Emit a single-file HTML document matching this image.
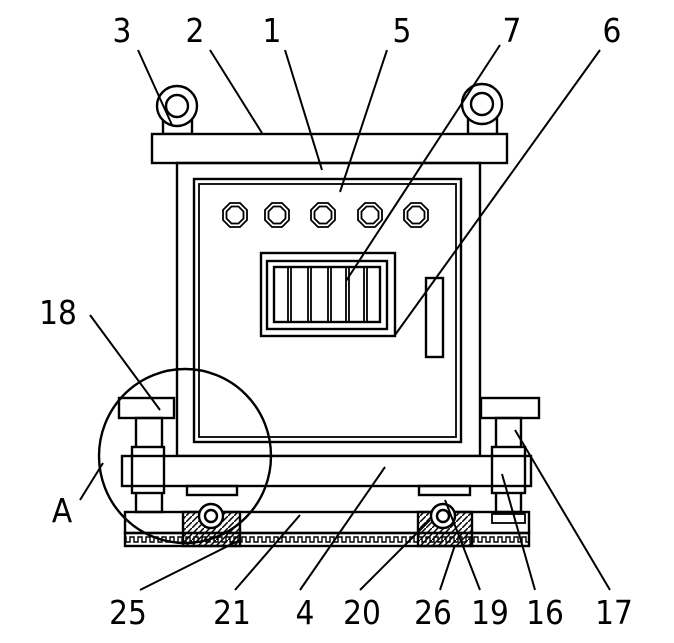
<!DOCTYPE html>
<html><head><style>body{margin:0;background:#fff}svg{display:block}</style></head><body>
<svg width="674" height="643" viewBox="0 0 674 643" xmlns="http://www.w3.org/2000/svg">
<defs>
<pattern id="h" width="8" height="13" patternUnits="userSpaceOnUse"><path d="M0 9 L2 9 L2 4 L6 4 L6 9 L8 9" fill="none" stroke="#000" stroke-width="1.4"/></pattern>
<pattern id="d" width="6" height="6" patternUnits="userSpaceOnUse"><path d="M0 6 L6 0" stroke="#000" stroke-width="1.5"/></pattern>
<g id="oct"><polygon points="-5,-12 5,-12 12,-5 12,5 5,12 -5,12 -12,5 -12,-5"/><polygon points="-3.5,-8.5 3.5,-8.5 8.5,-3.5 8.5,3.5 3.5,8.5 -3.5,8.5 -8.5,3.5 -8.5,-3.5"/></g>
</defs>
<g fill="none" stroke="#000" stroke-width="2.4">
<rect x="163" y="118" width="29" height="16" fill="#fff"/>
<circle cx="177" cy="106" r="20" fill="#fff"/><circle cx="177" cy="106" r="11"/>
<rect x="468" y="118" width="29" height="16" fill="#fff"/>
<circle cx="482" cy="104" r="20" fill="#fff"/><circle cx="482" cy="104" r="11"/>
<rect x="152" y="134" width="355" height="29" fill="#fff"/>
<rect x="177" y="163" width="303" height="293"/>
<rect x="194" y="179" width="267" height="263"/>
<rect x="199" y="184" width="257" height="253" stroke-width="1.8"/>
<g stroke-width="1.8">
<use href="#oct" x="235" y="215"/><use href="#oct" x="277" y="215"/><use href="#oct" x="323" y="215"/><use href="#oct" x="370" y="215"/><use href="#oct" x="416" y="215"/>
</g>
<rect x="261" y="253" width="134" height="83"/>
<rect x="267" y="261" width="120" height="68"/>
<rect x="274" y="267" width="106" height="55"/>
<path d="M288 267V322M291 267V322M308 267V322M311 267V322M328 267V322M331 267V322M346 267V322M349 267V322M364 267V322M367 267V322" stroke-width="1.8"/>
<rect x="426" y="278" width="17" height="79"/>
<rect x="119" y="398" width="55" height="20" fill="#fff"/>
<rect x="136" y="418" width="26" height="94"/>
<rect x="132" y="447" width="32" height="46" fill="#fff"/>
<rect x="481" y="398" width="58" height="20" fill="#fff"/>
<rect x="496" y="418" width="25" height="94"/>
<rect x="492" y="447" width="33" height="46" fill="#fff"/>
<rect x="122" y="456" width="409" height="30" fill="#fff"/>
<path d="M132 456V486M164 456V486M492 456V486M525 456V486"/>
<rect x="187" y="486" width="50" height="9"/>
<rect x="419" y="486" width="51" height="9"/>
<rect x="125" y="512" width="404" height="21"/>
<rect x="125" y="533" width="404" height="13" fill="url(#h)"/>
<rect x="183" y="512" width="57" height="34" fill="url(#d)"/>
<rect x="418" y="512" width="54" height="34" fill="url(#d)"/>
<circle cx="211" cy="516" r="12" fill="#fff"/><circle cx="211" cy="516" r="6"/>
<circle cx="443" cy="516" r="12" fill="#fff"/><circle cx="443" cy="516" r="6"/>
<rect x="492" y="514" width="33" height="9" stroke-width="1.8"/>
<ellipse cx="185" cy="456" rx="86" ry="87"/>
</g>
<g stroke="#000" stroke-width="2">
<path d="M138 50L172 125M210 50L262 133M285 50L322 170M387 50L340 192M500 45L346 281M600 50L395 335M90 315L160 410M80 500L103 463"/>
<path d="M140 590L240 540M235 590L300 515M300 590L385 467M360 590L430 520M440 590L455 545M480 590L445 500M535 590L502 474M610 590L515 430"/>
</g>
<g font-family="DejaVu Sans Condensed, DejaVu Sans, sans-serif" font-size="33" text-anchor="middle" fill="#000">
<text x="122" y="42">3</text><text x="195" y="42">2</text><text x="272" y="42">1</text><text x="402" y="42">5</text><text x="512" y="42">7</text><text x="612" y="42">6</text>
<text x="58" y="324">18</text><text x="62" y="522">A</text>
<text x="128" y="624">25</text><text x="232" y="624">21</text><text x="305" y="624">4</text><text x="362" y="624">20</text><text x="433" y="624">26</text><text x="490" y="624">19</text><text x="545" y="624">16</text><text x="614" y="624">17</text>
</g>
</svg>
</body></html>
